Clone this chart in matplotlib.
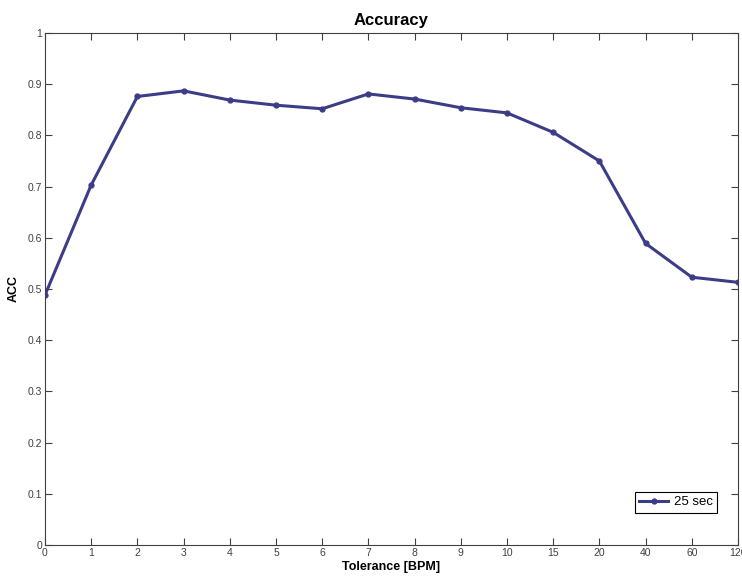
import numpy as np
import matplotlib
matplotlib.use("Agg")
import matplotlib.pyplot as plt

plt.rcParams['font.family'] = ['Liberation Sans', 'DejaVu Sans']

tolerance = ['0', '1', '2', '3', '4', '5', '6', '7', '8', '9', '10', '15', '20', '40', '60', '120']
acc = [0.488, 0.703, 0.876, 0.887, 0.869, 0.859, 0.852, 0.881, 0.871, 0.854,
       0.844, 0.806, 0.750, 0.589, 0.523, 0.513]

fig = plt.figure(figsize=(7.42, 5.77), dpi=100)
ax = fig.add_axes([0.0606, 0.0555, 0.934, 0.8873])

x = np.arange(len(tolerance))
ax.plot(x, acc, color='#3b3d86', lw=2.2, marker='o', ms=3.5, label='25 sec')

ax.set_xlim(0, len(tolerance) - 1)
ax.set_ylim(0, 1)
ax.set_xticks(x)
ax.set_xticklabels(tolerance)
ax.set_yticks(np.arange(0, 1.01, 0.1))
ax.set_yticklabels(['0', '0.1', '0.2', '0.3', '0.4', '0.5', '0.6', '0.7', '0.8', '0.9', '1'])
ax.tick_params(direction='in', top=True, right=True, length=5, width=0.8,
               labelsize=7.5, colors='#404040', pad=2)
for s in ax.spines.values():
    s.set_color('#404040')
    s.set_linewidth(0.8)

ax.set_title('Accuracy', fontsize=12, fontweight='bold', pad=6)
ax.set_xlabel('Tolerance [BPM]', fontsize=9, fontweight='bold', labelpad=2)
ax.set_ylabel('ACC', fontsize=9, fontweight='bold', labelpad=6)

leg = ax.legend(loc='lower right', bbox_to_anchor=(0.970, 0.0625), borderaxespad=0,
                fontsize=9.5, fancybox=False, framealpha=1, edgecolor='black',
                handlelength=2.2, handletextpad=0.4, borderpad=0.35)
leg.get_frame().set_linewidth(0.8)

fig.savefig('out.png', dpi=100)
